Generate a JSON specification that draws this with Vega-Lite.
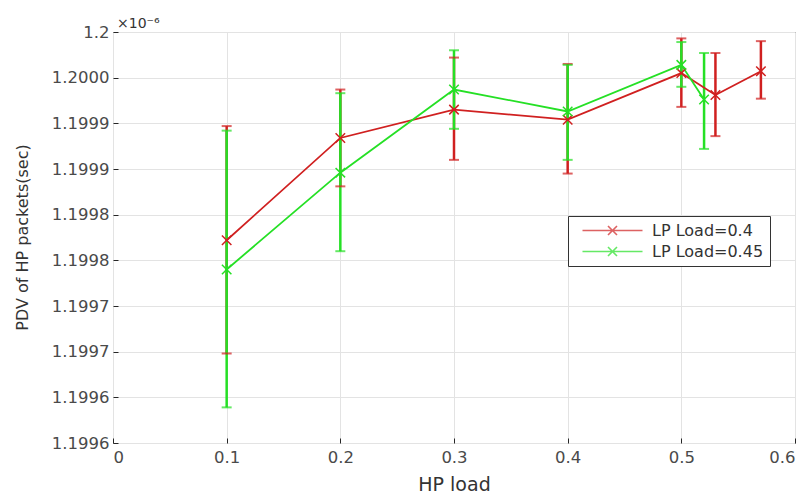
{
  "$schema": "https://vega.github.io/schema/vega-lite/v6.json",
  "width": 682,
  "height": 411,
  "autosize": "none",
  "padding": {"left": 113, "top": 32, "right": 15, "bottom": 54},
  "title": {"text": "×10⁻⁶", "anchor": "start", "frame": "group", "offset": 0, "dx": 4, "dy": 7, "fontSize": 14, "fontWeight": "normal", "font": "DejaVu Sans", "color": "#333333"},
  "config": {
    "view": {"stroke": "#262626", "strokeWidth": 1},
    "font": "DejaVu Sans",
    "axis": {"gridColor": "#e3e3e3", "gridWidth": 1, "domain": false, "tickColor": "#262626", "tickSize": -5, "labelFontSize": 16.5, "labelColor": "#4a4a4a", "titleFontSize": 16, "titleFontWeight": "normal", "titleColor": "#333333", "labelFont": "DejaVu Sans", "titleFont": "DejaVu Sans"}
  },
  "data": {"values": [
    {"series": "LP Load=0.4", "x": 0.1, "y": 1.199772, "lo": 1.199648, "hi": 1.199897},
    {"series": "LP Load=0.4", "x": 0.2, "y": 1.199884, "lo": 1.199831, "hi": 1.199937},
    {"series": "LP Load=0.4", "x": 0.3, "y": 1.199915, "lo": 1.19986, "hi": 1.199972},
    {"series": "LP Load=0.4", "x": 0.4, "y": 1.199904, "lo": 1.199845, "hi": 1.199965},
    {"series": "LP Load=0.4", "x": 0.5, "y": 1.199955, "lo": 1.199918, "hi": 1.199993},
    {"series": "LP Load=0.4", "x": 0.53, "y": 1.199931, "lo": 1.199886, "hi": 1.199977},
    {"series": "LP Load=0.4", "x": 0.57, "y": 1.199957, "lo": 1.199927, "hi": 1.19999},
    {"series": "LP Load=0.45", "x": 0.1, "y": 1.19974, "lo": 1.199589, "hi": 1.199892},
    {"series": "LP Load=0.45", "x": 0.2, "y": 1.199846, "lo": 1.19976, "hi": 1.199933},
    {"series": "LP Load=0.45", "x": 0.3, "y": 1.199937, "lo": 1.199894, "hi": 1.19998},
    {"series": "LP Load=0.45", "x": 0.4, "y": 1.199913, "lo": 1.19986, "hi": 1.199964},
    {"series": "LP Load=0.45", "x": 0.5, "y": 1.199964, "lo": 1.19994, "hi": 1.199989},
    {"series": "LP Load=0.45", "x": 0.52, "y": 1.199926, "lo": 1.199872, "hi": 1.199977}
  ]},
  "encoding": {
    "x": {"field": "x", "type": "quantitative", "scale": {"domain": [0, 0.6], "nice": false, "zero": false},
      "axis": {"values": [0, 0.1, 0.2, 0.3, 0.4, 0.5, 0.6], "title": "HP load", "titleFontSize": 19, "labelPadding": 11, "labelExpr": "datum.value == 0 ? '0' : format(datum.value, '.1f')", "titleY": 41, "titleBaseline": "middle"}},
    "color": {"field": "series", "type": "nominal", "scale": {"domain": ["LP Load=0.4", "LP Load=0.45"], "range": ["#d02020", "#25e025"]},
      "legend": {"title": null, "orient": "none", "legendX": 455, "legendY": 184, "strokeColor": "#333333", "fillColor": "#ffffff", "padding": 6, "rowPadding": 4, "labelFontSize": 16, "labelFont": "DejaVu Sans", "labelColor": "#333333", "labelExpr": "datum.label + '\u00a0\u00a0\u00a0\u00a0'", "symbolType": "M-4,0H4M-0.6,-0.6L0.6,0.6M0.6,-0.6L-0.6,0.6", "symbolSize": 225, "symbolStrokeWidth": 1.6, "symbolFillColor": "transparent", "symbolOffset": 30, "labelOffset": 31}}
  },
  "layer": [
    {"mark": {"type": "rule", "strokeWidth": 2.5},
     "encoding": {"y": {"field": "lo", "type": "quantitative", "scale": {"domain": [1.19955, 1.2], "nice": false, "zero": false},
        "axis": {"values": [1.19955, 1.1996, 1.19965, 1.1997, 1.19975, 1.1998, 1.19985, 1.1999, 1.19995, 1.2], "title": "PDV of HP packets(sec)", "labelPadding": 9, "labelExpr": "datum.value >= 1.19999 ? '1.2' : format(datum.value + 0.000001, '.4f')", "titleX": -91, "titleY": 205, "titleAngle": 270, "titleBaseline": "middle"}},
       "y2": {"field": "hi"}}},
    {"mark": {"type": "tick", "orient": "horizontal", "size": 10, "thickness": 2},
     "encoding": {"y": {"field": "lo", "type": "quantitative"}}},
    {"mark": {"type": "tick", "orient": "horizontal", "size": 10, "thickness": 2},
     "encoding": {"y": {"field": "hi", "type": "quantitative"}}},
    {"mark": {"type": "line", "strokeWidth": 1.8},
     "encoding": {"y": {"field": "y", "type": "quantitative"}}},
    {"mark": {"type": "point", "shape": "M-1,-1L1,1M1,-1L-1,1", "size": 90, "filled": false, "strokeWidth": 1.5, "opacity": 1},
     "encoding": {"y": {"field": "y", "type": "quantitative"}}}
  ]
}
